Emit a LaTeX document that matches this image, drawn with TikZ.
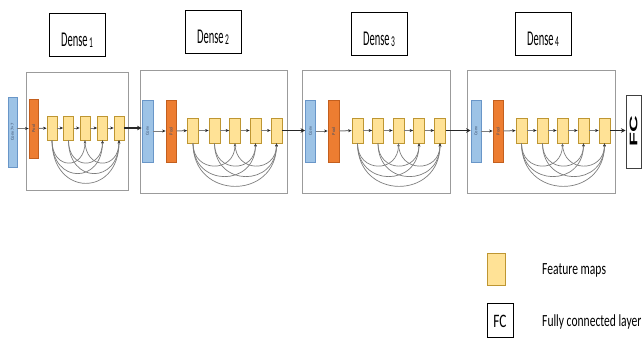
\documentclass[tikz,border=0pt]{standalone}
\usepackage{fontspec}
\setmainfont{Carlito}
\newfontfamily\fcfont{Liberation Sans}
\usetikzlibrary{arrows.meta}
\definecolor{cblue}{RGB}{157,195,230}
\definecolor{cbluedk}{RGB}{105,150,200}
\definecolor{corange}{RGB}{237,125,49}
\definecolor{corangedk}{RGB}{195,95,30}
\definecolor{cyel}{RGB}{255,226,150}
\definecolor{cyeldk}{RGB}{190,150,50}
\definecolor{cframe}{RGB}{155,155,155}
\definecolor{carc}{RGB}{125,125,125}
\definecolor{ctxt}{RGB}{60,80,110}
\newcommand\dlabel[1]{\scalebox{0.5}[1]{\fontsize{21}{21}\selectfont Dense\kern3pt\raisebox{-1.5pt}{\fontsize{15}{15}\selectfont #1}}}
\newcommand\lgtext[1]{\scalebox{0.68}[1]{\fontsize{17}{17}\selectfont #1}}
\newcommand\rtiny[1]{\rotatebox{90}{\fontsize{4.5}{4.5}\selectfont\color{ctxt}#1}}
\tikzset{
  convbox/.style={draw=cbluedk, fill=cblue, line width=0.8pt, inner sep=0pt},
  poolbox/.style={draw=corangedk, fill=corange, line width=0.8pt, inner sep=0pt},
  fmap/.style={draw=cyeldk, fill=cyel, line width=0.8pt, inner sep=0pt},
  frame/.style={draw=cframe, line width=1pt, inner sep=0pt},
  lbl/.style={draw=black, line width=0.9pt, inner sep=0pt},
  link/.style={draw=carc, line width=1pt, -{Stealth[length=3.5pt,width=3pt,color=black!85]}},
  arcl/.style={draw=carc, line width=0.7pt, -{Stealth[length=3pt,width=2.6pt,color=black!75]}},
  big/.style={draw=black!85, line width=1.6pt, -{Stealth[length=4.5pt,width=4.5pt]}},
  fcbox/.style={draw=black!75, line width=1pt, inner sep=0pt},
}
\begin{document}
\begin{tikzpicture}[x=1pt,y=-1pt]
\useasboundingbox (0,0) rectangle (642,343);
% frames
\node[frame, minimum width=102pt, minimum height=118pt] (f1) at (77,131) {};
\node[frame, minimum width=147pt, minimum height=123pt] (f2) at (213.5,131.5) {};
\node[frame, minimum width=148pt, minimum height=123pt] (f3) at (376,131.5) {};
\node[frame, minimum width=148pt, minimum height=123pt] (f4) at (541,131.5) {};
% labels
\node[lbl, minimum width=56pt, minimum height=43pt] (l1) at (77,34.5) {};
\node[lbl, minimum width=56pt, minimum height=43pt] (l2) at (213,31.5) {};
\node[lbl, minimum width=56pt, minimum height=43pt] (l3) at (379,33.5) {};
\node[lbl, minimum width=56pt, minimum height=43pt] (l4) at (543,33.5) {};
\node[anchor=base, inner sep=0pt] (t1) at (77,46) {\dlabel{1}};
\node[anchor=base, inner sep=0pt] (t2) at (213,43) {\dlabel{2}};
\node[anchor=base, inner sep=0pt] (t3) at (379,45) {\dlabel{3}};
\node[anchor=base, inner sep=0pt] (t4) at (543,45) {\dlabel{4}};
% block 1
\node[convbox, minimum width=9pt, minimum height=70pt] (c1) at (12.5,132) {\rtiny{Conv 7×7}};
\node[poolbox, minimum width=9pt, minimum height=59pt] (p1) at (33.5,128.5) {\rtiny{Pool}};
\foreach \i/\x in {1/52,2/68.5,3/85,4/102.5,5/119}
  \node[fmap, minimum width=10pt, minimum height=24pt] (a\i) at (\x,128) {};
% block 2
\node[convbox, minimum width=11pt, minimum height=62pt] (c2) at (147.5,131) {\rtiny{Conv}};
\node[poolbox, minimum width=10pt, minimum height=62pt] (p2) at (171,131) {\rtiny{Pool}};
\foreach \i/\x in {1/193,2/214.5,3/235,4/255.5,5/276.5}
  \node[fmap, minimum width=11pt, minimum height=25pt] (b\i) at (\x,130.5) {};
% block 3
\node[convbox, minimum width=10pt, minimum height=62pt] (c3) at (310.5,131) {\rtiny{Conv}};
\node[poolbox, minimum width=11pt, minimum height=62pt] (p3) at (333.5,131) {\rtiny{Pool}};
\foreach \i/\x in {1/357.5,2/378,3/398.5,4/419,5/440}
  \node[fmap, minimum width=11pt, minimum height=25pt] (d\i) at (\x,130.5) {};
% block 4
\node[convbox, minimum width=10pt, minimum height=62pt] (c4) at (476,131) {\rtiny{Conv}};
\node[poolbox, minimum width=10pt, minimum height=62pt] (p4) at (498,131) {\rtiny{Pool}};
\foreach \i/\x in {1/521.5,2/542.5,3/562.5,4/583.5,5/604.5}
  \node[fmap, minimum width=11pt, minimum height=25pt] (e\i) at (\x,130.5) {};
% FC
\node[fcbox, minimum width=15pt, minimum height=73pt] (fc) at (633.5,131.5)
  {\rotatebox{90}{\scalebox{2.1}[1]{\fcfont\bfseries\fontsize{11}{11}\selectfont FC}}};
% links inside blocks
\draw[link] (c1.east |- p1.west) -- (p1.west);
\foreach \n in {2,3,4} \draw[link] (c\n) -- (p\n);
\draw[link] (p1) -- (a1);
\draw[link] (p2) -- (b1);
\draw[link] (p3) -- (d1);
\draw[link] (p4) -- (e1);
\foreach \L in {a,b,d,e}
  \foreach \i/\j in {1/2,2/3,3/4,4/5}
    \draw[link] (\L\i) -- (\L\j);
% dense arcs
\foreach \L in {a,b,d,e}
  \foreach \s/\t/\dd in {1/3/30,2/4/30,3/5/30,1/4/44,2/5/44,1/5/57}
    \draw[arcl] (\L\s.south) .. controls +(0,\dd) and +(0,\dd) .. (\L\t.south);
% block to block
\draw[big] (a5.east) -- (c2.west |- a5.east);
\draw[big] (b5.east) -- (c3.west |- b5.east);
\draw[big] (d5.east) -- (c4.west |- d5.east);
\draw[big] (e5.east) -- (fc.west |- e5.east);
% legend
\node[fmap, minimum width=18pt, minimum height=32pt] (lg1) at (496,269) {};
\node[anchor=base west, inner sep=0pt] (lt1) at (542,274) {\lgtext{Feature maps}};
\node[lbl, minimum width=26pt, minimum height=34pt] (lg2) at (500,320) {};
\node[anchor=base, inner sep=0pt] (lg2t) at (500,327) {\scalebox{0.7}[1]{\fontsize{19}{19}\selectfont FC}};
\node[anchor=base west, inner sep=0pt] (lt2) at (542,326) {\lgtext{Fully connected layer}};
\end{tikzpicture}
\end{document}
